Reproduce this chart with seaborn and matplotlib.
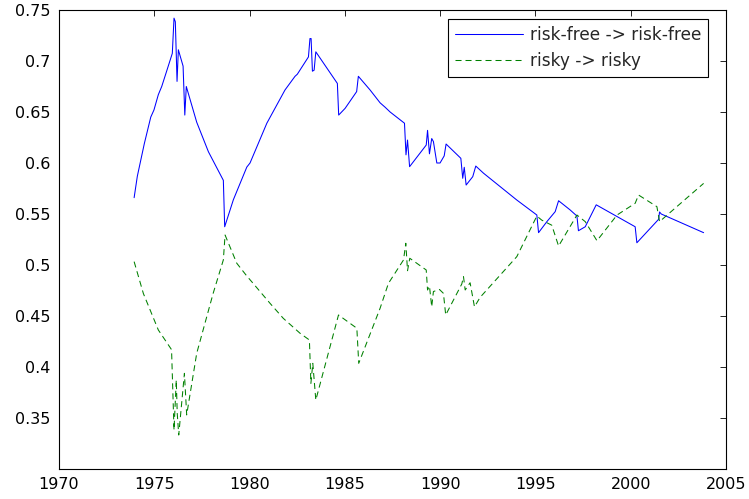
import numpy as np
import pandas as pd
import matplotlib
matplotlib.use("Agg")
import matplotlib.pyplot as plt
import seaborn as sns

# ---- data ----
rf_years = [1973.942, 1974.110, 1974.477, 1974.815, 1974.983, 1975.212, 1975.390, 1975.648,
            1975.946, 1976.035, 1976.104, 1976.194, 1976.263, 1976.511, 1976.601, 1976.680,
            1977.226, 1977.841, 1978.624, 1978.694, 1979.150, 1979.855, 1980.024, 1980.906,
            1981.859, 1982.385, 1982.504, 1983.089, 1983.169, 1983.228, 1983.298, 1983.387,
            1983.476, 1984.607, 1984.676, 1985.014, 1985.619, 1985.708, 1986.323, 1986.849,
            1987.117, 1987.375, 1988.129, 1988.208, 1988.288, 1988.397, 1989.270, 1989.339,
            1989.439, 1989.558, 1989.647, 1989.826, 1989.995, 1990.213, 1990.312, 1991.086,
            1991.185, 1991.265, 1991.364, 1991.711, 1991.870, 1992.276, 1994.023, 1995.074,
            1995.164, 1995.600, 1996.037, 1996.215, 1996.820, 1997.178, 1997.257, 1997.614,
            1998.190, 2000.233, 2000.323, 2001.464, 2001.513, 2001.603, 2003.825]
rf_values = [0.566, 0.587, 0.619, 0.645, 0.652, 0.667, 0.675, 0.690,
             0.7075, 0.742, 0.7385, 0.680, 0.711, 0.695, 0.647, 0.675,
             0.640, 0.611, 0.583, 0.5375, 0.564, 0.596, 0.600, 0.639,
             0.6716, 0.685, 0.687, 0.704, 0.722, 0.722, 0.690, 0.691,
             0.709, 0.678, 0.647, 0.6536, 0.670, 0.685, 0.6716, 0.659,
             0.6546, 0.650, 0.639, 0.608, 0.6225, 0.5964, 0.6176, 0.632,
             0.609, 0.624, 0.621, 0.600, 0.600, 0.607, 0.6186, 0.6046,
             0.585, 0.5958, 0.5784, 0.5866, 0.597, 0.590, 0.5637, 0.549,
             0.5317, 0.5425, 0.5523, 0.563, 0.554, 0.548, 0.5336, 0.5375,
             0.559, 0.5375, 0.5218, 0.5448, 0.552, 0.550, 0.5317]

risky_years = [1973.942, 1974.428, 1975.212, 1975.906, 1976.035, 1976.154, 1976.204, 1976.283,
               1976.581, 1976.700, 1977.226, 1978.089, 1978.624, 1978.714, 1979.329, 1979.855,
               1980.113, 1981.075, 1981.770, 1982.653, 1983.139, 1983.218, 1983.318, 1983.476,
               1984.666, 1985.629, 1985.728, 1986.849, 1987.286, 1988.079, 1988.198, 1988.288,
               1988.407, 1989.270, 1989.339, 1989.439, 1989.558, 1989.647, 1989.965, 1990.173,
               1990.292, 1991.136, 1991.225, 1991.314, 1991.572, 1991.801, 1992.098, 1994.023,
               1995.074, 1995.332, 1995.858, 1996.215, 1997.178, 1997.614, 1998.229, 1999.281,
               2000.233, 2000.412, 2001.374, 2001.513, 2003.825]
risky_values = [0.5033, 0.472, 0.4363, 0.417, 0.3382, 0.3873, 0.3546, 0.3333,
                0.3938, 0.353, 0.4134, 0.4722, 0.505, 0.5294, 0.5017, 0.4892,
                0.4836, 0.4624, 0.4477, 0.433, 0.4265, 0.384, 0.4036, 0.3676,
                0.451, 0.438, 0.4036, 0.4576, 0.482, 0.505, 0.5213, 0.4944,
                0.5066, 0.4951, 0.4755, 0.4794, 0.459, 0.474, 0.476, 0.4722,
                0.451, 0.4814, 0.4886, 0.4755, 0.4826, 0.459, 0.4683, 0.5082,
                0.548, 0.544, 0.539, 0.5186, 0.549, 0.5425, 0.5238, 0.549,
                0.5605, 0.5686, 0.5572, 0.5425, 0.580]

series_labels = ["risk-free -> risk-free", "risky -> risky"]
x_ticks = [1970, 1975, 1980, 1985, 1990, 1995, 2000, 2005]
y_ticks = [0.35, 0.4, 0.45, 0.5, 0.55, 0.6, 0.65, 0.7, 0.75]

sns.set_style("white")
plt.rcParams["font.family"] = ["DejaVu Sans"]

fig = plt.figure(figsize=(7.49, 4.99), dpi=100)
ax = fig.add_axes([59 / 749, 1 - 469 / 499, 667 / 749, 459 / 499])

df_rf = pd.DataFrame({"year": rf_years, "value": rf_values})
df_rk = pd.DataFrame({"year": risky_years, "value": risky_values})

sns.lineplot(data=df_rf, x="year", y="value", ax=ax, color="#0000ff", lw=0.75,
             estimator=None, sort=False, label=series_labels[0])
sns.lineplot(data=df_rk, x="year", y="value", ax=ax, color="#008000", lw=0.75,
             estimator=None, sort=False, label=series_labels[1])
ax.lines[1].set_dashes((5.8, 3.8))

ax.set_xlim(1970, 2005)
ax.set_ylim(0.3, 0.75)
ax.set_xticks(x_ticks)
ax.set_xticklabels([str(t) for t in x_ticks])
ax.set_yticks(y_ticks)
ax.set_yticklabels([f"{t:g}" for t in y_ticks])
ax.set_xlabel("")
ax.set_ylabel("")

for s in ax.spines.values():
    s.set_visible(True)
    s.set_color("black")
    s.set_linewidth(0.8)
ax.tick_params(direction="in", length=4.5, width=0.6, colors="black",
               top=True, right=True, labelsize=11.5)
ax.tick_params(axis="x", pad=6)
ax.tick_params(axis="y", pad=6)

handles, labels = ax.get_legend_handles_labels()
leg = ax.legend(handles, labels, loc="upper left",
                bbox_to_anchor=((448.3 - 59) / 667, (469 - 19.3) / 459),
                borderaxespad=0, fontsize=12.2, frameon=True, fancybox=False,
                shadow=False, handlelength=4.0, handletextpad=0.4,
                borderpad=0.4, labelspacing=0.46)
leg.get_frame().set_edgecolor("black")
leg.get_frame().set_linewidth(0.8)
leg.get_frame().set_alpha(1)

fig.savefig("out.png", dpi=100)
